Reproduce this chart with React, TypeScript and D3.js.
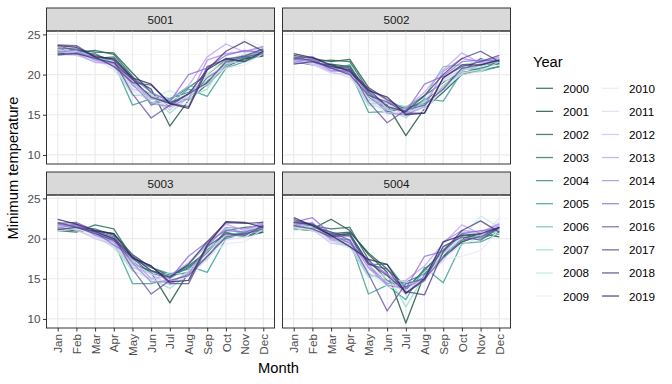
import React, { useEffect, useRef } from "react";
import * as d3 from "d3";

const months = ["Jan", "Feb", "Mar", "Apr", "May", "Jun", "Jul", "Aug", "Sep", "Oct", "Nov", "Dec"];
const years = d3.range(2000, 2020);
const stations = ["5001", "5002", "5003", "5004"];
const yTicks = [10, 15, 20, 25];

const yearColors = [
  "#14503f", "#0e4a38", "#1d6352", "#1f7564", "#238573",
  "#2e9c8a", "#5fc1ab", "#90dcc6", "#bfeadc", "#e1f3ec",
  "#e8e8f4", "#dcd8f6", "#cbc0f6", "#bb9ef4", "#a982ee",
  "#8d68dc", "#6a52a8", "#55468e", "#463a7c", "#2f2458",
];

// minimum temperature per year, Jan..Dec
const st5001 = [
  [23.5, 23.0, 22.8, 22.7, 20.2, 17.8, 16.0, 17.6, 19.0, 21.6, 22.0, 22.3],
  [22.6, 22.6, 22.4, 21.8, 19.5, 18.2, 13.6, 16.8, 18.8, 21.0, 22.0, 22.4],
  [23.2, 22.8, 23.0, 22.5, 19.8, 16.5, 16.8, 18.4, 20.0, 21.8, 22.4, 22.8],
  [22.8, 22.5, 22.6, 21.4, 19.0, 17.2, 16.6, 17.0, 19.6, 21.2, 21.8, 22.6],
  [23.0, 22.7, 22.0, 22.2, 19.6, 16.2, 17.0, 17.8, 19.2, 21.4, 22.0, 23.0],
  [22.9, 23.1, 22.3, 21.5, 16.2, 17.0, 16.4, 18.2, 17.3, 20.8, 21.6, 22.5],
  [23.1, 22.8, 22.5, 21.0, 18.6, 17.6, 17.0, 18.5, 18.6, 21.2, 22.2, 22.8],
  [22.7, 22.9, 22.1, 21.2, 17.4, 17.4, 15.2, 17.2, 18.2, 22.0, 22.3, 23.0],
  [23.0, 22.6, 22.4, 20.8, 18.8, 17.0, 18.0, 17.0, 20.2, 21.6, 22.6, 23.2],
  [22.3, 22.9, 22.0, 21.6, 18.4, 16.8, 17.4, 16.6, 20.0, 22.2, 24.4, 23.4],
  [23.6, 22.5, 21.8, 21.0, 19.0, 17.2, 16.2, 16.4, 19.4, 20.8, 21.2, 22.6],
  [23.2, 22.4, 21.9, 20.6, 18.0, 16.6, 16.0, 17.4, 18.8, 21.4, 21.6, 22.9],
  [22.5, 22.4, 21.6, 21.2, 18.2, 17.6, 15.6, 17.6, 19.8, 21.0, 22.4, 23.1],
  [23.0, 22.6, 21.5, 21.4, 19.2, 17.0, 16.8, 18.6, 22.2, 23.8, 22.8, 23.4],
  [22.8, 23.0, 21.8, 21.4, 18.8, 16.4, 16.0, 17.0, 21.8, 22.6, 22.9, 23.5],
  [22.4, 22.7, 22.2, 21.0, 19.6, 17.8, 16.6, 20.0, 20.8, 22.4, 23.0, 22.7],
  [23.3, 23.2, 22.4, 21.8, 17.6, 14.6, 16.2, 17.6, 19.0, 21.6, 22.2, 22.6],
  [23.7, 23.6, 22.2, 21.0, 19.0, 18.7, 16.4, 16.0, 21.0, 21.9, 22.3, 23.2],
  [22.5, 22.6, 22.0, 21.5, 19.4, 17.2, 16.4, 17.6, 20.6, 22.9, 24.1, 22.9],
  [23.6, 23.4, 22.2, 22.0, 19.6, 18.8, 16.4, 15.8, 20.6, 22.0, 21.6, 22.9],
];

const st5002 = [
  [22.4, 22.0, 21.6, 21.9, 18.4, 16.9, 15.6, 16.8, 18.4, 20.6, 21.2, 21.4],
  [21.6, 21.2, 21.3, 21.0, 17.8, 16.2, 12.4, 15.8, 17.8, 20.0, 20.6, 21.0],
  [22.0, 21.6, 21.8, 21.6, 18.0, 15.4, 15.8, 17.4, 19.0, 20.4, 22.0, 21.2],
  [21.8, 21.4, 21.2, 20.8, 17.6, 16.0, 15.4, 16.2, 18.6, 20.2, 20.8, 21.4],
  [21.6, 21.8, 20.6, 21.2, 17.2, 15.6, 15.9, 16.4, 18.2, 20.8, 20.6, 21.6],
  [21.4, 21.6, 20.8, 20.4, 15.3, 15.4, 15.0, 17.0, 16.7, 20.3, 20.4, 21.0],
  [21.9, 21.5, 21.0, 20.2, 16.8, 16.4, 16.0, 17.2, 21.0, 21.2, 21.6, 21.5],
  [21.5, 21.7, 20.8, 20.0, 16.2, 15.8, 14.6, 16.6, 18.0, 20.6, 21.0, 21.8],
  [21.7, 21.4, 20.9, 19.8, 17.0, 15.0, 15.6, 16.0, 19.2, 20.4, 21.4, 22.0],
  [21.4, 21.8, 20.6, 20.6, 16.6, 15.2, 15.2, 15.8, 18.8, 21.0, 21.8, 22.2],
  [22.2, 21.4, 20.6, 20.2, 17.4, 16.0, 15.6, 15.4, 18.4, 20.2, 20.6, 21.2],
  [21.9, 21.2, 20.4, 19.6, 17.0, 15.6, 15.0, 16.2, 18.6, 20.0, 20.4, 21.6],
  [21.6, 21.3, 20.2, 20.0, 16.4, 16.4, 14.8, 16.8, 19.4, 20.6, 21.2, 21.8],
  [21.8, 21.6, 20.4, 20.4, 18.0, 15.6, 15.8, 17.8, 20.6, 22.7, 21.4, 21.9],
  [21.5, 22.0, 20.5, 20.6, 17.6, 15.2, 15.0, 16.0, 20.4, 22.0, 21.6, 22.1],
  [21.9, 21.9, 20.8, 20.2, 18.2, 16.8, 15.4, 18.8, 19.8, 21.6, 21.8, 21.7],
  [22.0, 22.2, 21.0, 20.8, 16.6, 14.0, 15.6, 16.2, 18.2, 20.8, 21.2, 21.8],
  [22.2, 21.7, 20.8, 20.0, 17.4, 16.6, 15.2, 15.2, 19.6, 21.0, 21.6, 22.4],
  [21.3, 21.6, 21.0, 20.6, 18.2, 16.0, 15.4, 17.4, 20.0, 22.0, 22.9, 21.6],
  [22.6, 22.1, 21.2, 20.4, 18.0, 17.2, 15.0, 15.2, 19.6, 21.2, 21.2, 21.8],
];

const st5003 = [
  [21.2, 21.0, 21.0, 20.6, 18.0, 16.4, 15.4, 16.6, 18.4, 20.4, 20.8, 21.6],
  [21.4, 21.0, 20.8, 20.0, 17.0, 15.8, 12.0, 15.8, 17.8, 20.2, 20.4, 20.8],
  [21.0, 20.8, 21.7, 21.2, 17.6, 15.6, 15.2, 16.4, 18.2, 21.0, 21.4, 21.6],
  [21.6, 21.4, 21.2, 20.4, 16.8, 16.0, 15.4, 15.8, 17.6, 20.8, 20.2, 20.8],
  [21.4, 21.8, 20.6, 19.8, 17.4, 16.4, 15.6, 16.2, 18.6, 20.6, 20.6, 21.0],
  [21.6, 21.2, 20.8, 19.6, 14.4, 14.4, 15.0, 16.6, 15.8, 20.0, 20.6, 21.2],
  [21.8, 21.4, 20.6, 19.4, 16.4, 15.8, 15.4, 16.8, 19.2, 21.2, 20.8, 21.4],
  [21.2, 21.6, 20.4, 19.0, 16.0, 15.0, 13.8, 15.6, 17.4, 20.4, 20.9, 21.8],
  [21.5, 21.2, 20.5, 18.8, 16.6, 14.8, 15.8, 15.4, 18.8, 20.2, 20.4, 22.0],
  [21.0, 21.3, 20.3, 19.6, 16.2, 14.6, 15.0, 15.2, 18.0, 20.6, 20.0, 22.2],
  [22.0, 21.4, 20.4, 19.4, 17.0, 15.6, 14.8, 14.8, 17.6, 19.4, 19.6, 21.2],
  [21.7, 21.0, 20.2, 19.0, 16.8, 15.2, 14.4, 15.8, 18.0, 19.8, 20.2, 21.6],
  [21.4, 21.1, 20.0, 19.2, 16.4, 15.6, 14.2, 16.0, 18.4, 20.4, 20.4, 22.0],
  [21.6, 21.5, 20.6, 19.8, 17.4, 15.0, 15.4, 17.0, 19.4, 21.8, 21.0, 22.1],
  [21.3, 21.8, 20.4, 19.6, 17.0, 14.6, 14.6, 15.6, 19.0, 21.4, 21.2, 21.8],
  [21.8, 21.6, 20.8, 19.2, 17.8, 16.0, 15.0, 17.8, 19.6, 21.0, 20.8, 21.4],
  [21.9, 22.0, 21.0, 20.2, 16.2, 13.1, 14.8, 15.4, 17.8, 20.2, 20.6, 21.2],
  [22.0, 21.4, 20.6, 19.8, 17.6, 16.6, 14.4, 14.4, 19.0, 20.6, 20.4, 21.6],
  [21.1, 21.4, 20.9, 20.0, 17.8, 16.0, 15.2, 16.8, 19.6, 22.0, 21.9, 22.0],
  [22.4, 21.8, 21.0, 20.6, 17.6, 16.6, 14.6, 14.8, 19.2, 22.1, 22.0, 21.4],
];

const st5004 = [
  [21.2, 21.0, 20.6, 20.8, 18.2, 16.2, 14.0, 15.2, 17.6, 19.6, 20.4, 21.0],
  [21.6, 21.2, 22.4, 21.0, 18.0, 15.8, 9.5, 15.6, 17.8, 20.0, 20.6, 20.2],
  [22.0, 21.6, 21.2, 21.4, 17.4, 14.8, 13.6, 16.2, 18.2, 20.4, 20.2, 21.2],
  [21.8, 21.4, 20.8, 20.2, 16.6, 14.4, 14.6, 15.6, 17.8, 19.6, 20.4, 21.4],
  [22.2, 21.8, 20.4, 20.6, 16.8, 16.8, 13.8, 16.0, 18.6, 20.6, 20.0, 20.8],
  [21.4, 21.6, 20.2, 19.8, 13.1, 14.2, 12.4, 16.4, 14.5, 19.4, 19.6, 20.6],
  [21.6, 21.2, 20.0, 19.2, 15.6, 14.8, 14.4, 15.0, 19.0, 20.2, 20.0, 21.2],
  [21.2, 21.4, 19.8, 19.0, 15.2, 15.6, 11.5, 15.4, 17.2, 20.8, 20.4, 21.0],
  [21.4, 21.0, 20.4, 19.4, 15.8, 14.2, 14.2, 14.8, 18.4, 20.0, 22.8, 21.4],
  [20.9, 21.6, 20.2, 20.2, 15.4, 14.0, 13.6, 14.6, 18.0, 20.4, 20.8, 21.8],
  [22.0, 21.2, 19.8, 19.6, 16.6, 15.0, 14.6, 14.6, 17.4, 17.8, 18.5, 21.2],
  [21.8, 21.0, 19.6, 18.8, 16.2, 14.6, 13.4, 15.2, 17.6, 19.2, 20.2, 22.5],
  [21.5, 21.2, 19.4, 19.2, 15.4, 15.4, 13.0, 15.8, 18.2, 19.8, 20.4, 22.0],
  [21.8, 21.8, 19.8, 19.6, 16.8, 14.4, 14.8, 16.6, 19.4, 21.7, 20.6, 21.6],
  [21.6, 22.0, 20.0, 19.8, 16.4, 14.2, 13.8, 15.2, 19.6, 21.0, 20.8, 21.8],
  [22.0, 22.6, 20.6, 19.4, 17.2, 15.6, 13.8, 17.8, 18.4, 20.6, 21.0, 21.2],
  [22.4, 21.6, 20.8, 19.8, 15.6, 11.0, 14.4, 15.0, 17.6, 19.8, 20.2, 21.4],
  [21.6, 21.2, 20.2, 20.4, 16.8, 16.2, 13.2, 14.8, 19.0, 20.2, 19.8, 21.4],
  [22.0, 21.8, 20.4, 20.6, 17.0, 15.4, 13.4, 13.0, 18.4, 21.0, 22.2, 20.8],
  [22.6, 21.6, 20.4, 19.0, 17.4, 16.8, 13.2, 15.0, 19.6, 20.4, 20.6, 21.4],
];

const stationData = [st5001, st5002, st5003, st5004];

const App = () => {
  const svgRef = useRef<SVGSVGElement>(null);

  useEffect(() => {
    const w = 672;
    const h = 384;
    const font = "'Liberation Sans', Arial, sans-serif";

    const svg = d3.select(svgRef.current)
      .attr("width", w)
      .attr("height", h)
      .style("position", "absolute")
      .style("left", 0)
      .style("top", 0)
      .style("font-family", font);
    svg.selectAll("*").remove();

    svg.append("rect").attr("width", w).attr("height", h).attr("fill", "white");

    // facet layout
    const cols = [[46.5, 274.5], [282.5, 510.5]];
    const rows = [[31, 164], [195, 328]];
    const stripH = 23;

    const color = d3.scaleOrdinal<number, string>().domain(years).range(yearColors);

    stationData.forEach((series, i) => {
      const [x0, x1] = cols[i % 2];
      const [y0, y1] = rows[Math.floor(i / 2)];

      const x = d3.scalePoint<string>().domain(months).range([x0, x1]).padding(0.6);
      const y = d3.scaleLinear().domain([8.875, 25.42]).range([y1, y0]);

      const g = svg.append("g");

      // strip
      g.append("rect")
        .attr("x", x0).attr("y", y0 - stripH)
        .attr("width", x1 - x0).attr("height", stripH)
        .attr("fill", "#d9d9d9").attr("stroke", "#333").attr("stroke-width", 1);
      g.append("text")
        .attr("x", (x0 + x1) / 2).attr("y", y0 - stripH / 2)
        .attr("text-anchor", "middle").attr("dominant-baseline", "central")
        .attr("font-size", 11.7).attr("fill", "#1a1a1a")
        .text(stations[i]);

      // grid
      [12.5, 17.5, 22.5].forEach(v => {
        g.append("line").attr("x1", x0).attr("x2", x1)
          .attr("y1", y(v)).attr("y2", y(v))
          .attr("stroke", "#f2f2f2").attr("stroke-width", 0.7);
      });
      yTicks.forEach(v => {
        g.append("line").attr("x1", x0).attr("x2", x1)
          .attr("y1", y(v)).attr("y2", y(v))
          .attr("stroke", "#ebebeb").attr("stroke-width", 1.2);
      });
      months.forEach(m => {
        g.append("line").attr("x1", x(m)!).attr("x2", x(m)!)
          .attr("y1", y0).attr("y2", y1)
          .attr("stroke", "#ebebeb").attr("stroke-width", 1.2);
      });

      // lines
      const line = d3.line<number>()
        .x((_, j) => x(months[j])!)
        .y(d => y(d));

      g.selectAll(".yr")
        .data(series)
        .join("path")
        .attr("d", d => line(d))
        .attr("fill", "none")
        .attr("stroke", (_, k) => color(years[k]))
        .attr("stroke-opacity", 0.78)
        .attr("stroke-width", 1.3)
        .attr("stroke-linejoin", "round");

      // panel border
      g.append("rect")
        .attr("x", x0).attr("y", y0)
        .attr("width", x1 - x0).attr("height", y1 - y0)
        .attr("fill", "none").attr("stroke", "#333").attr("stroke-width", 1);

      // y axis for left column
      if (i % 2 === 0) {
        const ya = g.append("g").attr("transform", `translate(${x0},0)`)
          .call(d3.axisLeft(y).tickValues(yTicks).tickSize(3.5).tickPadding(2.5));
        ya.select(".domain").remove();
        ya.selectAll("line").attr("stroke", "#333");
        ya.selectAll("text").attr("font-size", 11.7).attr("fill", "#4d4d4d").attr("font-family", font);
      }

      // x axis for bottom row
      if (i >= 2) {
        const xa = g.append("g").attr("transform", `translate(0,${y1})`)
          .call(d3.axisBottom(x).tickSize(3.5).tickPadding(2));
        xa.select(".domain").remove();
        xa.selectAll("line").attr("stroke", "#333");
        xa.selectAll("text")
          .attr("font-size", 11.7).attr("fill", "#4d4d4d").attr("font-family", font)
          .attr("transform", "rotate(-90)")
          .attr("text-anchor", "end")
          .attr("x", -6).attr("y", 0).attr("dy", "0.35em");
      }
    });

    // axis titles
    svg.append("text")
      .attr("x", 278.5).attr("y", 373)
      .attr("text-anchor", "middle").attr("font-size", 14.7).attr("fill", "black")
      .text("Month");
    svg.append("text")
      .attr("transform", `translate(18,168) rotate(-90)`)
      .attr("text-anchor", "middle").attr("font-size", 14.7).attr("fill", "black")
      .text("Minimum temperature");

    // legend
    const lg = svg.append("g");
    lg.append("text").attr("x", 533).attr("y", 67)
      .attr("font-size", 14.7).attr("fill", "black").text("Year");
    years.forEach((yr, k) => {
      const c = Math.floor(k / 10);
      const r = k % 10;
      const cy = 88.3 + r * 23.08;
      const kx = 536 + c * 66;
      lg.append("line")
        .attr("x1", kx).attr("x2", kx + 17)
        .attr("y1", cy).attr("y2", cy)
        .attr("stroke", color(yr)).attr("stroke-opacity", 0.78).attr("stroke-width", 1.3);
      lg.append("text")
        .attr("x", kx + 27).attr("y", cy)
        .attr("dominant-baseline", "central")
        .attr("font-size", 11.7).attr("fill", "black")
        .text(yr);
    });
  }, []);

  return <svg ref={svgRef}></svg>;
};

export default App;
